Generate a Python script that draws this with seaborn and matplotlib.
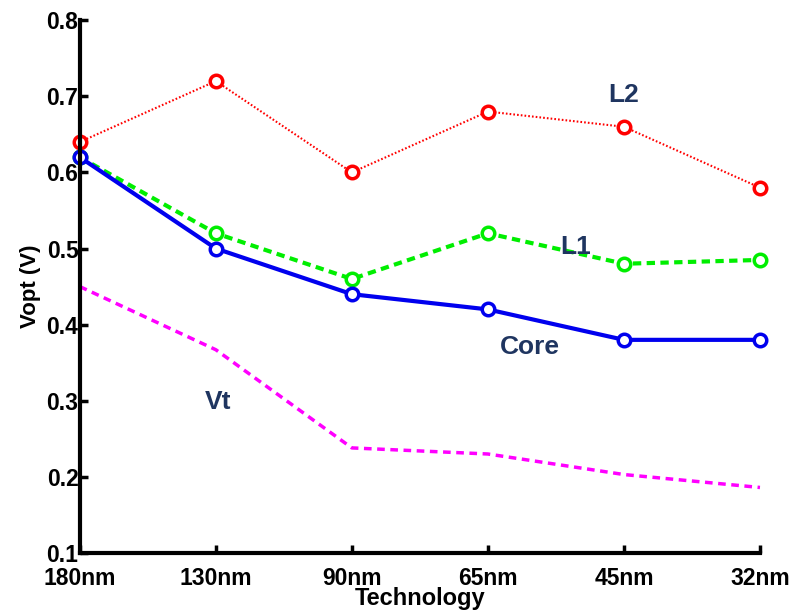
import numpy as np
import pandas as pd
import seaborn as sns
import matplotlib.pyplot as plt

tech = ["180nm", "130nm", "90nm", "65nm", "45nm", "32nm"]
l2 = [0.64, 0.72, 0.60, 0.68, 0.66, 0.58]
l1 = [0.62, 0.52, 0.46, 0.52, 0.48, 0.485]
core = [0.62, 0.50, 0.44, 0.42, 0.38, 0.38]
vt = [0.45, 0.367, 0.238, 0.23, 0.203, 0.186]

sns.set_style("ticks", {"axes.edgecolor": "black", "xtick.color": "black",
                        "ytick.color": "black", "text.color": "black",
                        "axes.labelcolor": "black"})
plt.rcParams["font.family"] = ["Liberation Sans", "DejaVu Sans"]
plt.rcParams["font.weight"] = "bold"

pos = np.arange(len(tech))

fig = plt.figure(figsize=(7.9, 6.13), dpi=100)
ax = fig.add_axes([0.101, 0.098, 0.861, 0.869])

sns.lineplot(x=pos, y=vt, ax=ax, color="#ff00ff", lw=2.5, clip_on=False)
ax.lines[-1].set_linestyle((0, (2.2, 1.6)))
sns.lineplot(x=pos, y=l2, ax=ax, color="red", lw=1.5, marker="o", ms=9,
             mfc="white", mec="red", mew=2.5, clip_on=False)
ax.lines[-1].set_linestyle((0, (0.8, 1.0)))
sns.lineplot(x=pos, y=l1, ax=ax, color="#00ee00", lw=3, marker="o", ms=9,
             mfc="white", mec="#00ee00", mew=2.5, clip_on=False)
ax.lines[-1].set_linestyle((0, (2.0, 1.3)))
sns.lineplot(x=pos, y=core, ax=ax, color="#0000ee", lw=3, marker="o", ms=9,
             mfc="white", mec="#0000ee", mew=2.5, clip_on=False)

# curve names, placed like the original annotations
lab_col = "#1f3560"
for txt, x, y in [("L2", 4.0, 0.702), ("L1", 3.645, 0.502),
                  ("Core", 3.31, 0.371), ("Vt", 1.016, 0.298)]:
    ax.text(x, y, txt, color=lab_col, fontsize=19, fontweight="bold",
            ha="center", va="center")

ax.set_xlim(0, 5)
ax.set_ylim(0.1, 0.8)
ax.set_xticks(pos)
ax.set_xticklabels(tech)
ax.set_yticks(np.arange(0.1, 0.81, 0.1))
ax.set_yticklabels([f"{v:.1f}" for v in np.arange(0.1, 0.81, 0.1)])
ax.tick_params(direction="in", length=6, width=2.5, labelsize=16.5)
ax.tick_params(axis="x", pad=10)
ax.tick_params(axis="y", pad=1)
for s in ["left", "bottom"]:
    ax.spines[s].set_linewidth(3)
sns.despine(ax=ax)
ax.set_xlabel("Technology", fontsize=17, fontweight="bold", labelpad=-2)
ax.set_ylabel("Vopt (V)", fontsize=16, fontweight="bold", labelpad=4)

fig.savefig("out.png", dpi=100)
